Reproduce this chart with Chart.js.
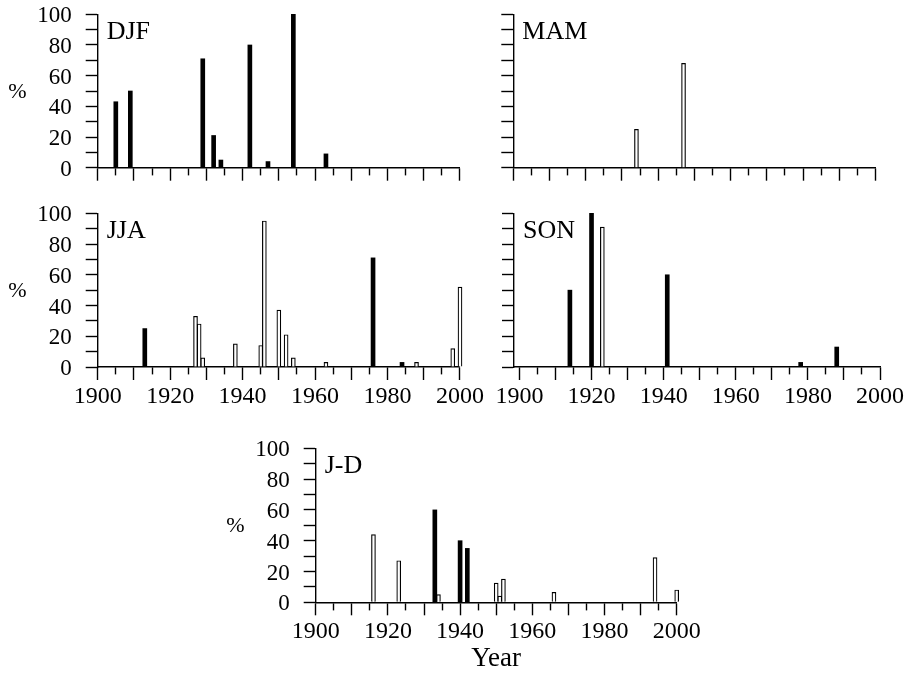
<!DOCTYPE html>
<html>
<head>
<meta charset="utf-8">
<script src="https://cdn.jsdelivr.net/npm/chart.js@4.4.1/dist/chart.umd.min.js"></script>
<style>
html,body{margin:0;padding:0;background:#fff;width:912px;height:681px;overflow:hidden}
canvas{position:absolute;left:0;top:0}
</style>
</head>
<body>
<canvas id="c0" width="912" height="681"></canvas>
<canvas id="c1" width="912" height="681"></canvas>
<canvas id="c2" width="912" height="681"></canvas>
<canvas id="c3" width="912" height="681"></canvas>
<canvas id="c4" width="912" height="681"></canvas>
<script>
// ---- data ----
const yearTicks = [1900,1905,1910,1915,1920,1925,1930,1935,1940,1945,1950,1955,1960,1965,1970,1975,1980,1985,1990,1995,2000];
const yearLabels = [1900,1920,1940,1960,1980,2000];
const pctTicks = [0,10,20,30,40,50,60,70,80,90,100];
const pctLabels = [0,20,40,60,80,100];

const djfFilledYears = [1905,1909,1929,1932,1934,1942,1947,1954,1963];
const djfFilledValues = [43,50,71,21,5,80,4,100,9];
const djfHollowYears = [];
const djfHollowValues = [];

const mamFilledYears = [];
const mamFilledValues = [];
const mamHollowYears = [1934,1947];
const mamHollowValues = [25,68];

const jjaFilledYears = [1913,1976,1984];
const jjaFilledValues = [25,71,3];
const jjaHollowYears = [1927,1928,1929,1938,1945,1946,1950,1952,1954,1963,1988,1998,2000];
const jjaHollowValues = [33,28,6,15,14,95,37,21,6,3,3,12,52];

const sonFilledYears = [1914,1920,1941,1978,1988];
const sonFilledValues = [50,100,60,3,13];
const sonHollowYears = [1923];
const sonHollowValues = [91];

const jdFilledYears = [1933,1940,1942];
const jdFilledValues = [60,40,35];
const jdHollowYears = [1916,1923,1934,1950,1951,1952,1966,1994,2000];
const jdHollowValues = [44,27,5,12.5,4,15,6.5,29,8];

// ---- layout / style ----
const FONT = "'Liberation Serif', 'Times New Roman', serif";
Chart.defaults.font.family = FONT;
Chart.defaults.color = '#000';

const Y_W = 80;
const panels = [
  {id:'c0', name:'DJF', fy:djfFilledYears, fv:djfFilledValues, hy:djfHollowYears, hv:djfHollowValues,
   left:97.7, right:460, top:14.3, bottom:167.7, xmin:1900, xLabels:false, yLabels:true, xH:50},
  {id:'c1', name:'MAM', fy:mamFilledYears, fv:mamFilledValues, hy:mamHollowYears, hv:mamHollowValues,
   left:513.3, right:875.5, top:14.3, bottom:167.7, xmin:1900, xLabels:false, yLabels:false, xH:50},
  {id:'c2', name:'JJA', fy:jjaFilledYears, fv:jjaFilledValues, hy:jjaHollowYears, hv:jjaHollowValues,
   left:97.7, right:460, top:213.3, bottom:367, xmin:1900, xLabels:true, yLabels:true, xH:50},
  {id:'c3', name:'SON', fy:sonFilledYears, fv:sonFilledValues, hy:sonHollowYears, hv:sonHollowValues,
   left:514, right:880, top:213.3, bottom:367, xmin:1898.5, xLabels:true, yLabels:false, xH:50},
  {id:'c4', name:'J-D', fy:jdFilledYears, fv:jdFilledValues, hy:jdHollowYears, hv:jdHollowValues,
   left:315.7, right:676.7, top:448.3, bottom:602.3, xmin:1900, xLabels:true, yLabels:true, xH:73, title:'Year'}
];

const panelText = {
  id: 'panelText',
  afterDraw(chart, args, opts) {
    const ctx = chart.ctx, a = chart.chartArea;
    ctx.save();
    ctx.fillStyle = '#000';
    ctx.font = "26px " + FONT;
    ctx.textAlign = 'left';
    ctx.textBaseline = 'alphabetic';
    ctx.fillText(opts.label, a.left + 9, a.top + 25);
    if (opts.unit) {
      ctx.font = "22px " + FONT;
      ctx.textAlign = 'right';
      ctx.textBaseline = 'middle';
      ctx.fillText(opts.unit, a.left - 71, (a.top + a.bottom) / 2 + 1);
    }
    ctx.restore();
  }
};

function pts(xs, ys) { return xs.map((x, i) => ({x: x, y: ys[i]})); }

panels.forEach(p => {
  new Chart(document.getElementById(p.id), {
    type: 'bar',
    data: {
      datasets: [
        {data: pts(p.fy, p.fv), backgroundColor:'#000', borderWidth:0, barThickness:4, grouped:false, clip:false},
        {data: pts(p.hy, p.hv), backgroundColor:'#fff', borderColor:'#000', borderWidth:1.2, barThickness:4, grouped:false, clip:false}
      ]
    },
    options: {
      responsive:false, animation:false, events:[],
      layout: {padding: {left: p.left - Y_W, right: 912 - p.right, top: p.top, bottom: 681 - p.bottom - p.xH}},
      plugins: {legend:{display:false}, tooltip:{enabled:false},
        panelText: {label: p.name, unit: p.yLabels ? '%' : ''}},
      scales: {
        x: {
          type:'linear', min:p.xmin, max:2000, offset:false,
          afterBuildTicks: s => { s.ticks = yearTicks.map(v => ({value:v})); },
          afterFit: s => { s.height = p.xH; s.paddingLeft = 0; s.paddingRight = 0; },
          grid: {offset:false, drawOnChartArea:false, drawTicks:true, tickLength:13, tickWidth:1.4, tickColor:'#000',
                 tickBorderDash: c => (c.tick && c.tick.value % 10 !== 0) ? [7, 40] : []},
          border: {display:true, color:'#000', width:1.4},
          ticks: {autoSkip:false, maxRotation:0, minRotation:0, padding:2, color:'#000', font:{size:24},
                  callback: v => (p.xLabels && yearLabels.includes(v)) ? String(v) : ''},
          title: p.title ? {display:true, text:p.title, color:'#000', font:{size:27}, padding:0} : {display:false}
        },
        y: {
          min:0, max:100,
          afterBuildTicks: s => { s.ticks = pctTicks.map(v => ({value:v})); },
          afterFit: s => { s.width = Y_W; s.paddingTop = 0; s.paddingBottom = 0; },
          grid: {drawOnChartArea:false, drawTicks:true, tickLength:12, tickWidth:1.4, tickColor:'#000'},
          border: {display:true, color:'#000', width:1.4},
          ticks: {autoSkip:false, padding:14, labelOffset:2, color:'#000', font:{size:23},
                  callback: v => (p.yLabels && pctLabels.includes(v)) ? String(v) : ''}
        }
      }
    },
    plugins: [panelText]
  });
});
</script>
</body>
</html>
